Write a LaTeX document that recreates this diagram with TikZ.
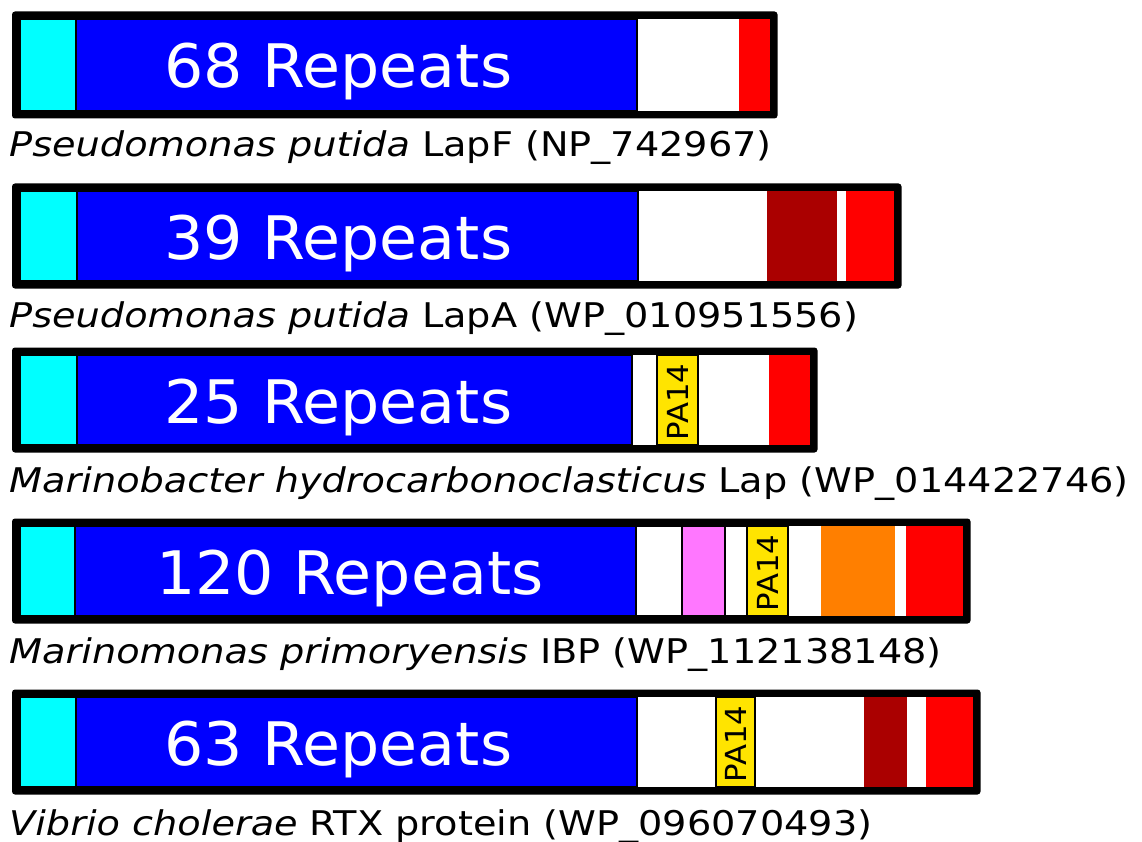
\documentclass[tikz,border=0pt]{standalone}
\usepackage{fontspec}
\usepackage{graphicx}
\setmainfont{DejaVu Sans}
\definecolor{cyanc}{HTML}{00FFFF}
\definecolor{bluec}{HTML}{0000FF}
\definecolor{redc}{HTML}{FF0000}
\definecolor{dredc}{HTML}{AA0000}
\definecolor{pinkc}{HTML}{FF77FF}
\definecolor{yelc}{HTML}{FFE400}
\definecolor{orc}{HTML}{FF7F00}
\newcommand\labtxt[1]{\scalebox{1.125}[1]{#1}}
\newcommand\reptxt[1]{\scalebox{1.03}[1]{#1}}
\newcommand\patxt[1]{\scalebox{1.06}[1]{#1}}
\tikzset{
  frame/.style={fill=black, rounded corners=3pt},
  segline/.style={draw=black, line width=1.2pt},
  plain/.style={draw=none},
  rep/.style={text=white, font=\fontsize{60}{70}\selectfont, anchor=base west, inner sep=0pt},
  lab/.style={font=\fontsize{34}{40}\selectfont, anchor=base west, inner sep=0pt},
  pa/.style={font=\fontsize{29}{34}\selectfont, rotate=90, inner sep=0pt},
}
\begin{document}
\begin{tikzpicture}[x=1pt,y=-1pt]
\useasboundingbox (0,0) rectangle (1142,842);
% ---------- bar 1 ----------
\path[frame] (12,11.5) rectangle (777.5,118.5);
\fill[white] (20,19) rectangle (770,111);
\foreach \a/\b/\c/\s in {20/76/cyanc/segline,76/637/bluec/segline,739/770/redc/plain}
  \path[\s, fill=\c] (\a,19) rectangle (\b,111);
\node[rep] (r1) at (164,88) {\reptxt{68 Repeats}};
\node[lab] (l1) at (9,157) {\labtxt{\textit{Pseudomonas putida} LapF (NP\_742967)}};
% ---------- bar 2 ----------
\path[frame] (12,183.5) rectangle (901.5,288.5);
\fill[white] (20,191) rectangle (894,281);
\foreach \a/\b/\c/\s in {20/77/cyanc/segline,77/638/bluec/segline,767/837/dredc/plain,846/894/redc/plain}
  \path[\s, fill=\c] (\a,191) rectangle (\b,281);
\node[rep] (r2) at (164,259) {\reptxt{39 Repeats}};
\node[lab] (l2) at (9,327) {\labtxt{\textit{Pseudomonas putida} LapA (WP\_010951556)}};
% ---------- bar 3 ----------
\path[frame] (12,347.5) rectangle (817.5,452.5);
\fill[white] (20,355) rectangle (810,445);
\foreach \a/\b/\c/\s in {20/77/cyanc/segline,77/632/bluec/segline,657/698/yelc/segline,769/810/redc/plain}
  \path[\s, fill=\c] (\a,355) rectangle (\b,445);
\node[rep] (r3) at (164,423) {\reptxt{25 Repeats}};
\node[pa] (p3) at (677.5,402) {\patxt{PA14}};
\node[lab] (l3) at (9,492) {\labtxt{\textit{Marinobacter hydrocarbonoclasticus} Lap (WP\_014422746)}};
% ---------- bar 4 ----------
\path[frame] (12,518.5) rectangle (970.5,623.5);
\fill[white] (20,526) rectangle (963,616);
\foreach \a/\b/\c/\s in {20/75/cyanc/segline,75/636/bluec/segline,636/682/white/segline,682/725/pinkc/segline,725/747/white/segline,747/788/yelc/segline,821/895/orc/plain,906/963/redc/plain}
  \path[\s, fill=\c] (\a,526) rectangle (\b,616);
\node[rep] (r4) at (156,594) {\reptxt{120 Repeats}};
\node[pa] (p4) at (767.5,573) {\patxt{PA14}};
\node[lab] (l4) at (9,663) {\labtxt{\textit{Marinomonas primoryensis} IBP (WP\_112138148)}};
% ---------- bar 5 ----------
\path[frame] (12,689.5) rectangle (980.5,794.5);
\fill[white] (20,697) rectangle (973,787);
\foreach \a/\b/\c/\s in {20/76/cyanc/segline,76/637/bluec/segline,716/755/yelc/segline,864/907/dredc/plain,926/973/redc/plain}
  \path[\s, fill=\c] (\a,697) rectangle (\b,787);
\node[rep] (r5) at (164,765) {\reptxt{63 Repeats}};
\node[pa] (p5) at (735.5,744) {\patxt{PA14}};
\node[lab] (l5) at (9,835) {\labtxt{\textit{Vibrio cholerae} RTX protein (WP\_096070493)}};
\end{tikzpicture}
\end{document}
